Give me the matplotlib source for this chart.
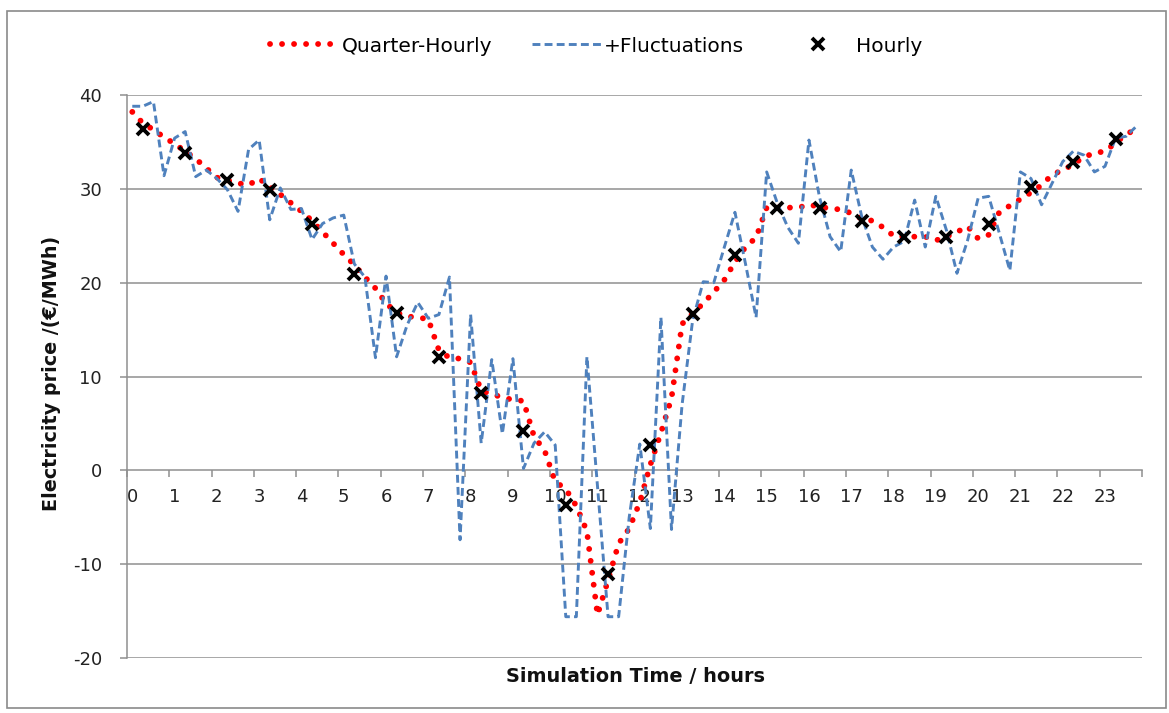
import matplotlib
matplotlib.use("Agg")
import matplotlib.pyplot as plt
from matplotlib.lines import Line2D
from matplotlib.patches import Rectangle
import numpy as np

# Quarter-hourly electricity price over one day (96 intervals), EUR/MWh
quarter_hourly = [
    38.2, 37.0, 36.3, 35.5, 34.8, 34.0, 33.2, 32.2,
    31.2, 30.9, 30.6, 30.4, 31.1, 30.2, 29.4, 28.5,
    27.6, 26.6, 25.4, 24.2, 23.0, 21.9, 20.6, 19.4,
    17.8, 16.8, 16.4, 16.3, 16.1, 12.8, 12.0, 11.9,
    11.5, 8.5, 8.1, 7.8, 7.5, 7.4, 3.6, 2.1,
    -1.2, -2.0, -3.8, -6.5, -15.4, -11.7, -7.8, -6.2,
    -3.4, 0.6, 4.0, 7.7, 15.6, 16.7, 17.8, 19.0,
    20.3, 22.2, 23.8, 24.8, 28.0, 28.0, 28.0, 28.0,
    28.3, 28.1, 27.9, 27.8, 27.4, 26.8, 26.6, 25.9,
    25.0, 24.9, 24.9, 24.9, 24.5, 24.9, 25.4, 26.0,
    24.7, 25.1, 27.5, 28.2, 28.9, 29.6, 30.4, 31.5,
    32.0, 32.6, 33.4, 33.8, 34.0, 34.9, 35.8, 36.4,
]

# Quarter-hourly price including short-term fluctuations
fluctuations = [
    38.8, 38.8, 39.3, 31.4, 35.4, 36.1, 31.3, 32.0,
    31.1, 29.9, 27.6, 34.2, 35.2, 26.7, 30.1, 27.8,
    27.9, 24.6, 26.3, 26.9, 27.2, 22.0, 20.6, 12.0,
    20.7, 12.1, 15.5, 17.9, 16.2, 16.6, 20.6, -7.4,
    16.6, 2.9, 11.8, 3.9, 11.9, 0.2, 2.9, 4.1,
    2.7, -15.6, -15.6, 12.1, -1.7, -15.6, -15.6, -5.0,
    2.8, -6.2, 16.3, -6.3, 7.0, 16.0, 20.1, 20.0,
    23.8, 27.5, 22.0, 16.3, 31.8, 28.5, 25.9, 24.2,
    35.2, 29.1, 24.9, 23.3, 32.0, 27.0, 23.8, 22.5,
    23.8, 24.4, 28.8, 23.8, 29.2, 25.6, 21.0, 24.5,
    29.0, 29.2, 25.3, 21.3, 31.8, 31.1, 28.3, 30.6,
    32.9, 34.0, 33.6, 31.8, 32.4, 35.4, 35.6, 36.7,
]

# Hourly price (24 values)
hourly = [
    36.4, 33.8, 30.9, 29.9, 26.2, 20.9, 16.8, 12.1,
    8.2, 4.2, -3.7, -11.0, 2.7, 16.7, 22.9, 28.0,
    28.0, 26.6, 24.9, 24.9, 26.3, 30.2, 32.9, 35.3,
]

hour_labels = [str(h) for h in range(24)]

plt.rcParams["font.family"] = ["DejaVu Sans"]
plt.rcParams["axes.unicode_minus"] = False

W, H = 1169, 713
fig = plt.figure(figsize=(W / 100, H / 100), dpi=100)
fig.patch.set_facecolor("white")

# chart-area border
fig.add_artist(Rectangle((7 / W, 5 / H), 1 - 10 / W, 1 - 16 / H,
                         transform=fig.transFigure, fill=False,
                         edgecolor="#8a8a8a", linewidth=1.2))

left, right, top, bottom = 127, 1142, 95, 658
ax = fig.add_axes([left / W, 1 - bottom / H, (right - left) / W, (bottom - top) / H])

# category positions: each quarter sits in the middle of its slot
x_q = (np.arange(len(quarter_hourly)) + 0.5) / 4.0
x_h = (np.arange(len(hourly)) * 4 + 1.5) / 4.0

RED, BLUE = "#ff0000", "#4f81bd"
red_style = dict(color=RED, linewidth=4.2, linestyle=(0, (0.01, 2.05)),
                 dash_capstyle="round")
blue_style = dict(color=BLUE, linewidth=2.1, linestyle=(0, (2.7, 1.45)))
x_style = dict(linestyle="none", marker="x", markersize=8.5,
               markeredgewidth=2.8, color="black")

grid_col = "#8f8f8f"
for v in [-20, -10, 10, 20, 30, 40]:
    ax.axhline(v, color=grid_col, linewidth=1.1, zorder=0)

ax.plot(x_q, quarter_hourly, zorder=2, **red_style)
ax.plot(x_q, fluctuations, zorder=3, **blue_style)
ax.plot(x_h, hourly, zorder=4, **x_style)

ax.set_xlim(0, 24)
ax.set_ylim(-20, 40)

for s in ["top", "right"]:
    ax.spines[s].set_visible(False)
ax.spines["left"].set_color(grid_col)
ax.spines["left"].set_linewidth(1.1)
ax.spines["bottom"].set_position(("data", 0))
ax.spines["bottom"].set_color(grid_col)
ax.spines["bottom"].set_linewidth(1.1)

ax.set_yticks(np.arange(-20, 41, 10))
ax.tick_params(axis="y", direction="out", length=5, width=1.1, color=grid_col,
               pad=13, labelsize=13, labelcolor="#222222")

ax.set_xticks(np.arange(0, 25, 1))
ax.set_xticklabels([])
ax.tick_params(axis="x", which="major", direction="out", length=5, width=1.1,
               color=grid_col)
ax.set_xticks(np.arange(24) + 0.125, minor=True)
ax.set_xticklabels(hour_labels, minor=True)
ax.tick_params(axis="x", which="minor", length=0, pad=13, labelsize=13,
               labelcolor="#222222")

fig.text(52 / W, 1 - 373 / H, "Electricity price /(€/MWh)", rotation=90,
         ha="center", va="center", fontsize=13.8, fontweight="bold",
         color="#111111")
fig.text(635 / W, 1 - 676 / H, "Simulation Time / hours", ha="center",
         va="center", fontsize=13.9, fontweight="bold", color="#111111")

handles = [Line2D([], [], **red_style), Line2D([], [], **blue_style),
           Line2D([], [], **x_style)]
fig.legend(handles, ["Quarter-Hourly", "+Fluctuations", "Hourly"],
           loc="center", bbox_to_anchor=(596 / W, 1 - 46 / H), ncol=3,
           frameon=False, fontsize=14.5, handlelength=3.4, handletextpad=0.15,
           columnspacing=2.0)

fig.savefig("out.png", dpi=100, facecolor="white")
